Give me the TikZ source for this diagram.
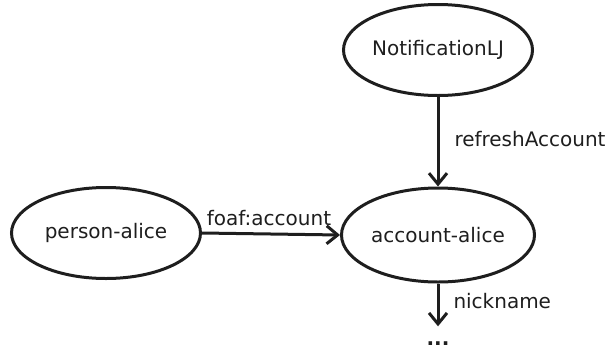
\documentclass[tikz,border=0pt]{standalone}
\usepackage{fontspec}
\setmainfont{DejaVu Sans}
\usetikzlibrary{shapes.geometric,arrows.meta}
\definecolor{ink}{RGB}{30,30,30}
\begin{document}
\begin{tikzpicture}[x=1pt,y=-1pt,
  font=\fontsize{20}{24}\selectfont, color=ink,
  res/.style={ellipse, draw, line width=3pt, inner sep=0pt,
              minimum width=189pt, minimum height=91pt},
  arr/.style={line width=3pt, -{Straight Barb[length=11pt,width=18pt,line width=3pt]}},
  lbl/.style={inner sep=0pt}]
\useasboundingbox (0,0) rectangle (605,349);
\node[res] (notif) at (438,50) {NotificationLJ};
\node[res] (person) at (106,233) {person-alice};
\node[res, minimum width=193pt, minimum height=94pt] (acc) at (438,235) {account-alice};
\node[lbl, anchor=base, text height=19pt, text depth=0pt] (dots) at (438,345.5) {\textbf{...}};

\draw[arr] (notif) -- (acc)
  node[lbl, anchor=west, pos=0.47, xshift=15pt] {refreshAccount};
\draw[arr] (person.east) -- (acc.west)
  node[lbl, anchor=base, midway, yshift=9pt, xshift=-2pt] {foaf:account};
\draw[arr] (acc) -- (dots)
  node[lbl, anchor=west, pos=0.4, xshift=14pt] {nickname};
\end{tikzpicture}
\end{document}
